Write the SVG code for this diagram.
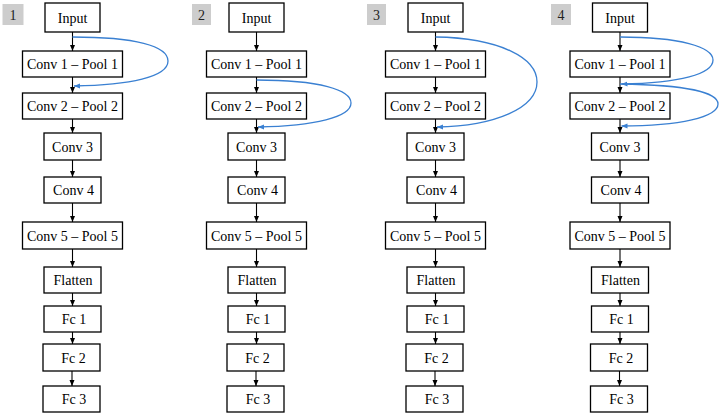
<svg xmlns="http://www.w3.org/2000/svg" width="719" height="417" viewBox="0 0 719 417">
<style>
.box{fill:#fff;stroke:#000;stroke-width:1.3}
.lab{fill:#cdcdcd;stroke:none}
.t{font-family:"Liberation Serif","Times New Roman",serif;font-size:14px;text-anchor:middle;fill:#000}
.lt{font-family:"Liberation Serif","Times New Roman",serif;font-size:14px;text-anchor:middle;fill:#222}
.k{stroke:#000;stroke-width:1.1;fill:none;marker-end:url(#ak)}
.b{stroke:#3a80d2;stroke-width:1.3;fill:none;marker-end:url(#ab)}
</style>
<defs>
<marker id="ak" markerUnits="userSpaceOnUse" markerWidth="6" markerHeight="6" viewBox="0 0 6 6" refX="6" refY="3" orient="auto"><path d="M0,0.5 L6,3 L0,5.5 z" fill="#000"/></marker>
<marker id="ab" markerUnits="userSpaceOnUse" markerWidth="6" markerHeight="6" viewBox="0 0 6 6" refX="6" refY="3" orient="auto"><path d="M0,0.5 L6,3 L0,5.5 z" fill="#3a80d2"/></marker>
</defs>
<rect width="719" height="417" fill="#fff"/>

<g id="label1"><rect class="lab" x="2.5" y="4" width="21" height="21"/><text class="lt" x="13" y="20">1</text></g>
<g id="label2"><rect class="lab" x="192" y="4" width="19" height="21"/><text class="lt" x="201.5" y="20">2</text></g>
<g id="label3"><rect class="lab" x="367" y="4" width="19" height="21"/><text class="lt" x="376.5" y="20">3</text></g>
<g id="label4"><rect class="lab" x="551" y="4" width="20" height="21"/><text class="lt" x="561" y="20">4</text></g>

<!-- Column 1 -->
<g id="c1-input"><rect class="box" x="45" y="3" width="55" height="29"/><text class="t" x="72.5" y="22.5">Input</text></g>
<g id="c1-conv1"><rect class="box" x="22.5" y="51" width="100" height="26"/><text class="t" x="72.5" y="69">Conv 1 – Pool 1</text></g>
<g id="c1-conv2"><rect class="box" x="22.5" y="93" width="100" height="26"/><text class="t" x="72.5" y="111">Conv 2 – Pool 2</text></g>
<g id="c1-conv3"><rect class="box" x="44" y="133" width="57" height="27"/><text class="t" x="72.5" y="151.5">Conv 3</text></g>
<g id="c1-conv4"><rect class="box" x="44" y="177" width="57" height="26"/><text class="t" x="73.5" y="195">Conv 4</text></g>
<g id="c1-conv5"><rect class="box" x="22.5" y="222" width="100" height="27"/><text class="t" x="72.5" y="240.5">Conv 5 – Pool 5</text></g>
<g id="c1-flatten"><rect class="box" x="44" y="267" width="57" height="26"/><text class="t" x="73" y="285">Flatten</text></g>
<g id="c1-fc1"><rect class="box" x="44" y="306" width="57" height="26"/><text class="t" x="74" y="324">Fc 1</text></g>
<g id="c1-fc2"><rect class="box" x="43" y="344" width="57" height="27"/><text class="t" x="73.5" y="362.5">Fc 2</text></g>
<g id="c1-fc3"><rect class="box" x="43" y="386" width="57" height="26"/><text class="t" x="74" y="404">Fc 3</text></g>

<!-- Column 2 -->
<g id="c2-input"><rect class="box" x="229" y="3" width="55" height="29"/><text class="t" x="256.5" y="22.5">Input</text></g>
<g id="c2-conv1"><rect class="box" x="206.5" y="51" width="100" height="26"/><text class="t" x="256.5" y="69">Conv 1 – Pool 1</text></g>
<g id="c2-conv2"><rect class="box" x="206.5" y="93" width="100" height="26"/><text class="t" x="256.5" y="111">Conv 2 – Pool 2</text></g>
<g id="c2-conv3"><rect class="box" x="228" y="133" width="57" height="27"/><text class="t" x="256.5" y="151.5">Conv 3</text></g>
<g id="c2-conv4"><rect class="box" x="228" y="177" width="57" height="26"/><text class="t" x="257.5" y="195">Conv 4</text></g>
<g id="c2-conv5"><rect class="box" x="206.5" y="222" width="100" height="27"/><text class="t" x="256.5" y="240.5">Conv 5 – Pool 5</text></g>
<g id="c2-flatten"><rect class="box" x="228" y="267" width="57" height="26"/><text class="t" x="257" y="285">Flatten</text></g>
<g id="c2-fc1"><rect class="box" x="228" y="306" width="57" height="26"/><text class="t" x="258" y="324">Fc 1</text></g>
<g id="c2-fc2"><rect class="box" x="227" y="344" width="57" height="27"/><text class="t" x="257.5" y="362.5">Fc 2</text></g>
<g id="c2-fc3"><rect class="box" x="227" y="386" width="57" height="26"/><text class="t" x="258" y="404">Fc 3</text></g>

<!-- Column 3 -->
<g id="c3-input"><rect class="box" x="408" y="3" width="55" height="29"/><text class="t" x="435.5" y="22.5">Input</text></g>
<g id="c3-conv1"><rect class="box" x="385.5" y="51" width="100" height="26"/><text class="t" x="435.5" y="69">Conv 1 – Pool 1</text></g>
<g id="c3-conv2"><rect class="box" x="385.5" y="93" width="100" height="26"/><text class="t" x="435.5" y="111">Conv 2 – Pool 2</text></g>
<g id="c3-conv3"><rect class="box" x="407" y="133" width="57" height="27"/><text class="t" x="435.5" y="151.5">Conv 3</text></g>
<g id="c3-conv4"><rect class="box" x="407" y="177" width="57" height="26"/><text class="t" x="436.5" y="195">Conv 4</text></g>
<g id="c3-conv5"><rect class="box" x="385.5" y="222" width="100" height="27"/><text class="t" x="435.5" y="240.5">Conv 5 – Pool 5</text></g>
<g id="c3-flatten"><rect class="box" x="407" y="267" width="57" height="26"/><text class="t" x="436" y="285">Flatten</text></g>
<g id="c3-fc1"><rect class="box" x="407" y="306" width="57" height="26"/><text class="t" x="437" y="324">Fc 1</text></g>
<g id="c3-fc2"><rect class="box" x="406" y="344" width="57" height="27"/><text class="t" x="436.5" y="362.5">Fc 2</text></g>
<g id="c3-fc3"><rect class="box" x="406" y="386" width="57" height="26"/><text class="t" x="437" y="404">Fc 3</text></g>

<!-- Column 4 -->
<g id="c4-input"><rect class="box" x="592.5" y="3" width="55" height="29"/><text class="t" x="620" y="22.5">Input</text></g>
<g id="c4-conv1"><rect class="box" x="570" y="51" width="100" height="26"/><text class="t" x="620" y="69">Conv 1 – Pool 1</text></g>
<g id="c4-conv2"><rect class="box" x="570" y="93" width="100" height="26"/><text class="t" x="620" y="111">Conv 2 – Pool 2</text></g>
<g id="c4-conv3"><rect class="box" x="591.5" y="133" width="57" height="27"/><text class="t" x="620" y="151.5">Conv 3</text></g>
<g id="c4-conv4"><rect class="box" x="591.5" y="177" width="57" height="26"/><text class="t" x="621" y="195">Conv 4</text></g>
<g id="c4-conv5"><rect class="box" x="570" y="222" width="100" height="27"/><text class="t" x="620" y="240.5">Conv 5 – Pool 5</text></g>
<g id="c4-flatten"><rect class="box" x="591.5" y="267" width="57" height="26"/><text class="t" x="620.5" y="285">Flatten</text></g>
<g id="c4-fc1"><rect class="box" x="591.5" y="306" width="57" height="26"/><text class="t" x="621.5" y="324">Fc 1</text></g>
<g id="c4-fc2"><rect class="box" x="590.5" y="344" width="57" height="27"/><text class="t" x="621" y="362.5">Fc 2</text></g>
<g id="c4-fc3"><rect class="box" x="590.5" y="386" width="57" height="26"/><text class="t" x="621.5" y="404">Fc 3</text></g>

<g id="connectors">
<path class="k" d="M72.5,32V51"/><path class="k" d="M72.5,77V93"/><path class="k" d="M72.5,119V133"/><path class="k" d="M72.5,160V177"/><path class="k" d="M72.5,203V222"/><path class="k" d="M72.5,249V267"/><path class="k" d="M72.5,293V306"/><path class="k" d="M72.5,332V344"/><path class="k" d="M72,371V386"/>
<path class="k" d="M256.5,32V51"/><path class="k" d="M256.5,77V93"/><path class="k" d="M256.5,119V133"/><path class="k" d="M256.5,160V177"/><path class="k" d="M256.5,203V222"/><path class="k" d="M256.5,249V267"/><path class="k" d="M256.5,293V306"/><path class="k" d="M256.5,332V344"/><path class="k" d="M256,371V386"/>
<path class="k" d="M435.5,32V51"/><path class="k" d="M435.5,77V93"/><path class="k" d="M435.5,119V133"/><path class="k" d="M435.5,160V177"/><path class="k" d="M435.5,203V222"/><path class="k" d="M435.5,249V267"/><path class="k" d="M435.5,293V306"/><path class="k" d="M435.5,332V344"/><path class="k" d="M435,371V386"/>
<path class="k" d="M620,32V51"/><path class="k" d="M620,77V93"/><path class="k" d="M620,119V133"/><path class="k" d="M620,160V177"/><path class="k" d="M620,203V222"/><path class="k" d="M620,249V267"/><path class="k" d="M620,293V306"/><path class="k" d="M620,332V344"/><path class="k" d="M619.5,371V386"/>
<path class="b" d="M72.5,37 C135,37 168,46 168,61 C168,77 130,85 74,86"/>
<path class="b" d="M256.5,80 C320,80 351,90 351,103 C351,117 315,126 258,127"/>
<path class="b" d="M435.5,37 C500,38 537,58 537,82 C537,108 495,126 437,127"/>
<path class="b" d="M620,37 C680,37 713,47 713,60 C713,74 680,83 621.5,84"/>
<path class="b" d="M620,84 C690,85 718,93 718,104 C718,117 680,126 621.5,126"/>
</g>
</svg>
